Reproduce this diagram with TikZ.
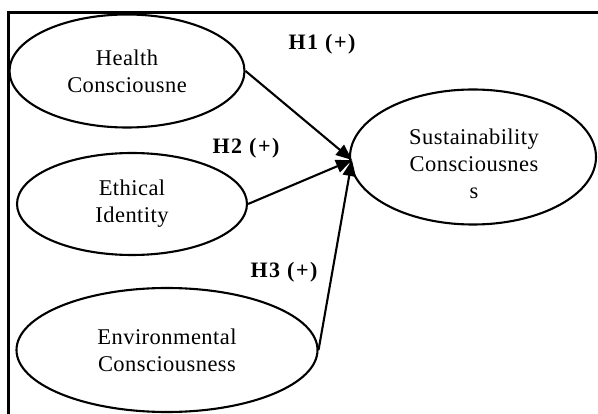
\documentclass[tikz,border=0pt]{standalone}
\usepackage{fontspec}
\setmainfont{Liberation Serif}
\newfontfamily\labfont[LetterSpace=2]{Liberation Serif}
\newfontfamily\hypfont[LetterSpace=7]{Liberation Serif}
\usetikzlibrary{shapes.geometric,arrows.meta}
\tikzset{
  construct/.style={ellipse, draw, line width=2.1pt, inner sep=0pt, align=center,
    font=\labfont\fontsize{22.5}{27}\selectfont},
  path/.style={line width=2.1pt, -{Triangle[length=16pt,width=13pt]}},
  hyp/.style={font=\hypfont\fontsize{22}{26}\selectfont\bfseries, inner sep=0pt},
  frame/.style={line width=3pt}
}
\begin{document}
\begin{tikzpicture}[x=1pt,y=-1pt]
\useasboundingbox (0,0) rectangle (598,414);
\coordinate (tl) at (8,13);
\coordinate (tr) at (598,13);
\coordinate (bl) at (8,414);
\draw[frame] (tr) -- (tl) -- (bl);

\node[construct, minimum width=235pt, minimum height=113pt] (hc) at (127,71) {Health\\Consciousne};
\node[construct, minimum width=230pt, minimum height=102pt] (ei) at (132,204) {Ethical\\Identity};
\node[construct, minimum width=301pt, minimum height=124pt] (ec) at (167,350) {Environmental\\Consciousness};
\node[construct, minimum width=246pt, minimum height=135pt] (sc) at (473,157) {};
\node[align=center, font=\labfont\fontsize{22.5}{27}\selectfont, inner sep=0pt] (sct) at (474,164) {Sustainability\\Consciousnes\\s};

\coordinate (tip) at (352,160);
\draw[path] (hc.east) -- (tip);
\draw[path] (ei.east) -- (tip);
\draw[path] (ec.east) -- (tip);

\node[hyp] (h1) at (322,44) {H1 (+)};
\node[hyp] (h2) at (246,148) {H2 (+)};
\node[hyp] (h3) at (284,272) {H3 (+)};
\end{tikzpicture}
\end{document}
